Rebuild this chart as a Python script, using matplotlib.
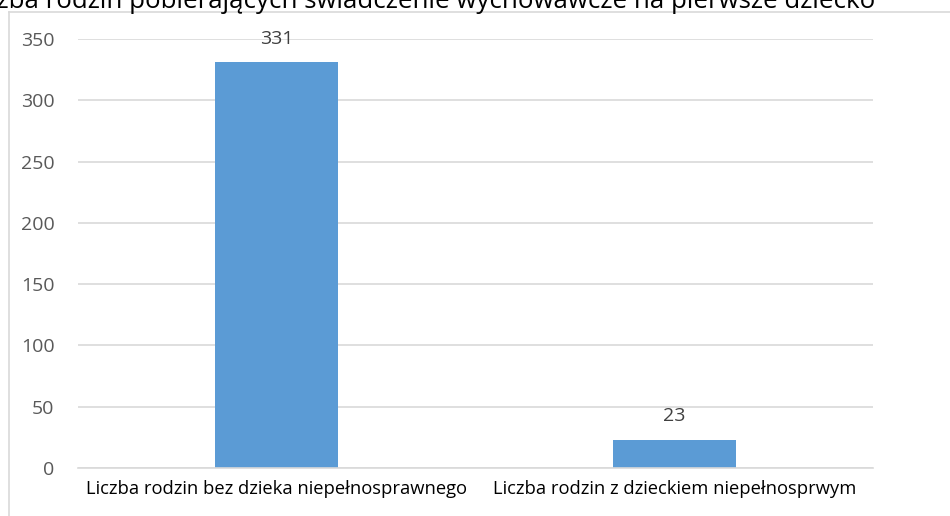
import matplotlib
matplotlib.use("Agg")
import matplotlib.pyplot as plt
from matplotlib.lines import Line2D

# dane z wykresu
categories = ["Liczba rodzin bez dzieka niepełnosprawnego",
              "Liczba rodzin z dzieckiem niepełnosprwym"]
values = [331, 23]
yticks = [0, 50, 100, 150, 200, 250, 300, 350]
title = "Liczba rodzin pobierających świadczenie wychowawcze na pierwsze dziecko"

plt.rcParams['font.family'] = ['Open Sans', 'DejaVu Sans']

W, H = 950, 516
fig = plt.figure(figsize=(W / 100, H / 100), dpi=100)
ax = fig.add_axes([78 / W, 48 / H, (873 - 78) / W, (468 - 39) / H])

x = range(len(categories))
bars = ax.bar(x, values, width=0.31, color="#5B9BD5", zorder=2)
for b, v in zip(bars, values):
    ax.text(b.get_x() + b.get_width() / 2, v + 12, str(v), ha="center", va="bottom",
            fontsize=14, color="#404040")

ax.set_xlim(-0.5, len(categories) - 0.5)
ax.set_ylim(0, 350)
ax.set_yticks(yticks)
ax.set_yticklabels([str(t) for t in yticks], fontsize=14, color="#595959")
ax.set_xticks(list(x))
ax.set_xticklabels(categories, fontsize=13.2, color="#000000")
ax.tick_params(axis="both", length=0)
ax.tick_params(axis="y", pad=17)
ax.tick_params(axis="x", pad=9)
ax.grid(axis="y", color="#D9D9D9", linewidth=1.2, zorder=0)
for s in ["top", "right", "left"]:
    ax.spines[s].set_visible(False)
ax.spines["bottom"].set_color("#D9D9D9")
ax.spines["bottom"].set_linewidth(1.2)

# ramka obszaru wykresu (przycięta)
fig.add_artist(Line2D([8.5 / W, 8.5 / W], [0, 1 - 12 / H], transform=fig.transFigure,
                      color="#D9D9D9", linewidth=1.2))
fig.add_artist(Line2D([8.5 / W, 1], [1 - 12 / H, 1 - 12 / H], transform=fig.transFigure,
                      color="#D9D9D9", linewidth=1.2))

fig.text(875 / W, 1 - 8 / H, title, ha="right", va="baseline", fontsize=18.6, color="#000000")

fig.savefig("out.png", dpi=100)
